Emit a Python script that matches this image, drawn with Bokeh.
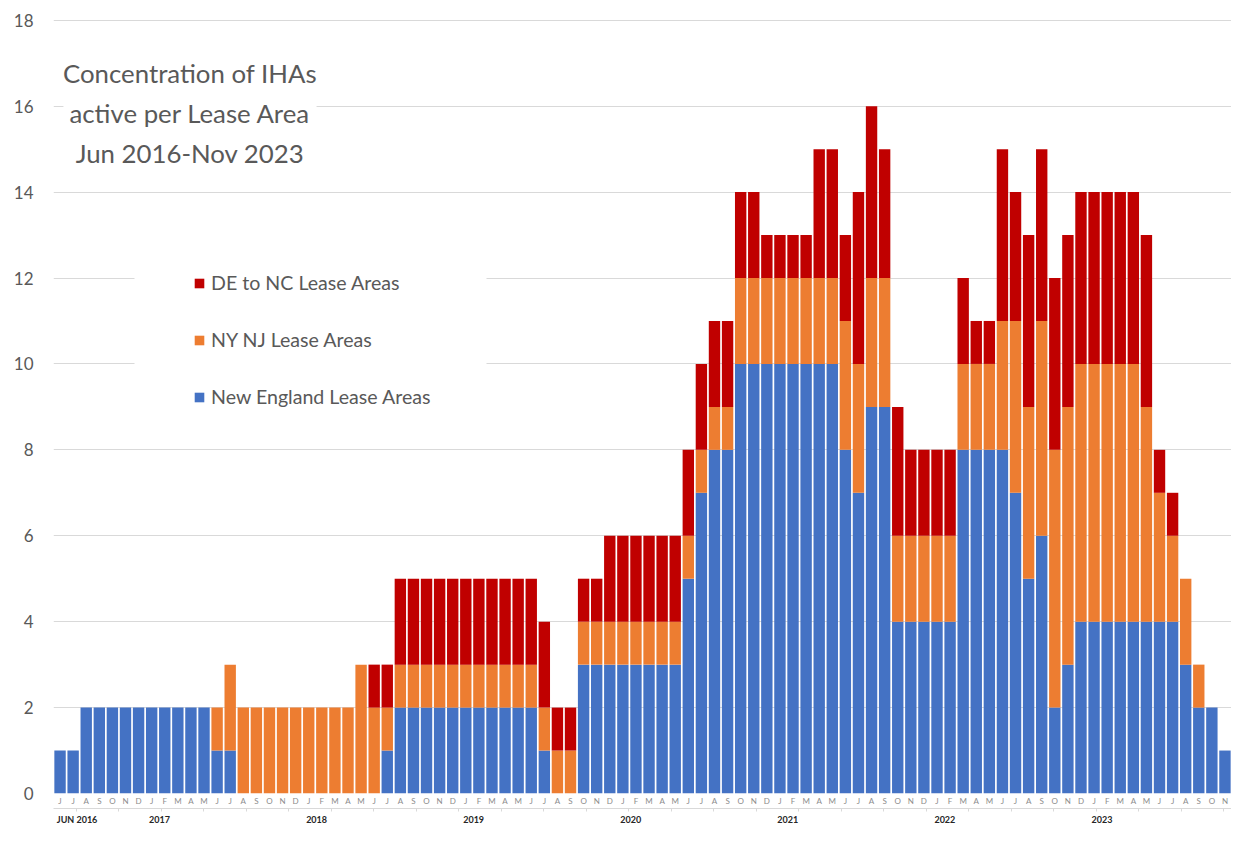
import pandas as pd
from bokeh.plotting import figure
from bokeh.models import (ColumnDataSource, Range1d, FixedTicker, LinearAxis,
                          Legend, LegendItem, Label, BoxAnnotation)
from bokeh.embed import file_html
from bokeh.resources import INLINE

# ---------------- data ----------------
months = pd.date_range("2016-06-01", periods=90, freq="MS")
month_letters = [m.strftime("%b")[0] for m in months]

new_england = [1, 1, 2, 2, 2, 2, 2,
               2, 2, 2, 2, 2, 1, 1, 0, 0, 0, 0, 0,
               0, 0, 0, 0, 0, 0, 1, 2, 2, 2, 2, 2,
               2, 2, 2, 2, 2, 2, 1, 0, 0, 3, 3, 3,
               3, 3, 3, 3, 3, 5, 7, 8, 8, 10, 10, 10,
               10, 10, 10, 10, 10, 8, 7, 9, 9, 4, 4, 4,
               4, 4, 8, 8, 8, 8, 7, 5, 6, 2, 3, 4,
               4, 4, 4, 4, 4, 4, 4, 3, 2, 2, 1]
ny_nj = [0, 0, 0, 0, 0, 0, 0,
         0, 0, 0, 0, 0, 1, 2, 2, 2, 2, 2, 2,
         2, 2, 2, 2, 3, 2, 1, 1, 1, 1, 1, 1,
         1, 1, 1, 1, 1, 1, 1, 1, 1, 1, 1, 1,
         1, 1, 1, 1, 1, 1, 1, 1, 1, 2, 2, 2,
         2, 2, 2, 2, 2, 3, 3, 3, 3, 2, 2, 2,
         2, 2, 2, 2, 2, 3, 4, 4, 5, 6, 6, 6,
         6, 6, 6, 6, 5, 3, 2, 2, 1, 0, 0]
de_nc = [0, 0, 0, 0, 0, 0, 0,
         0, 0, 0, 0, 0, 0, 0, 0, 0, 0, 0, 0,
         0, 0, 0, 0, 0, 1, 1, 2, 2, 2, 2, 2,
         2, 2, 2, 2, 2, 2, 2, 1, 1, 1, 1, 2,
         2, 2, 2, 2, 2, 2, 2, 2, 2, 2, 2, 1,
         1, 1, 1, 3, 3, 2, 4, 4, 3, 3, 2, 2,
         2, 2, 2, 1, 1, 4, 3, 4, 4, 4, 4, 4,
         4, 4, 4, 4, 4, 1, 1, 0, 0, 0, 0]

series_names = ["New England Lease Areas", "NY NJ Lease Areas", "DE to NC Lease Areas"]
series_colors = ["#4472C4", "#ED7D31", "#C00000"]
year_labels = ["JUN 2016", "2017", "2018", "2019", "2020", "2021", "2022", "2023"]
title_lines = ["Concentration of IHAs", "active per Lease Area", "Jun 2016-Nov 2023"]

FONT = "Lato"
TXT = "#595959"
FRAME_BOTTOM = 794   # expected frame bottom in canvas px

idx = list(range(len(months)))
source = ColumnDataSource(dict(idx=idx, ne=new_england, nynj=ny_nj, denc=de_nc))

p = figure(width=1231, height=827, output_backend="svg", toolbar_location=None,
           x_range=Range1d(-0.5, len(months) - 0.5), y_range=Range1d(0, 18.46),
           min_border_left=53, min_border_right=0, min_border_top=0,
           min_border_bottom=0)
p.outline_line_color = None
p.background_fill_color = "white"
p.border_fill_color = "white"

renderers = p.vbar_stack(["ne", "nynj", "denc"], x="idx", width=0.87,
                         color=series_colors, line_color=None, source=source)

# y axis
p.yaxis.ticker = FixedTicker(ticks=list(range(0, 19, 2)))
p.yaxis.axis_line_color = None
p.yaxis.major_tick_line_color = None
p.yaxis.minor_tick_line_color = None
p.yaxis.major_tick_out = 0
p.yaxis.major_label_standoff = 20
p.yaxis.major_label_text_font = FONT
p.yaxis.major_label_text_font_size = "17px"
p.yaxis.major_label_text_color = TXT
p.ygrid.grid_line_color = "#d9d9d9"
p.xgrid.grid_line_color = None

# month letters axis
p.xaxis.ticker = FixedTicker(ticks=idx)
p.xaxis.major_label_overrides = {i: l for i, l in zip(idx, month_letters)}
p.xaxis.axis_line_color = None
p.xaxis.major_tick_line_color = None
p.xaxis.minor_tick_line_color = None
p.xaxis.major_tick_out = 0
p.xaxis.major_tick_in = 0
p.xaxis.minor_tick_out = 0
p.xaxis.major_label_standoff = 2
p.xaxis.major_label_text_font = FONT
p.xaxis.major_label_text_font_size = "8px"
p.xaxis.major_label_text_color = "#8c8c8c"

# year axis
jan_idx = [i for i, m in enumerate(months) if m.month == 1]
year_pos = [1.3] + [j + 0.6 for j in jan_idx]
deco = [1.25 + 3.247 * k for k in range(28)]
year_axis = LinearAxis(ticker=FixedTicker(ticks=year_pos, minor_ticks=deco),
                       major_label_overrides={pos: lab for pos, lab in zip(year_pos, year_labels)})
year_axis.axis_line_color = "#d9d9d9"
year_axis.major_tick_line_color = None
year_axis.major_tick_out = 0
year_axis.major_tick_in = 0
year_axis.minor_tick_line_color = "#d9d9d9"
year_axis.minor_tick_out = 3
year_axis.minor_tick_in = 0
year_axis.major_label_standoff = 2
year_axis.major_label_text_font = FONT
year_axis.major_label_text_font_style = "bold"
year_axis.major_label_text_font_size = "9px"
year_axis.major_label_text_color = "#262626"
p.add_layout(year_axis, "below")

# white panel behind the legend (hides gridlines like the original legend box)
p.add_layout(BoxAnnotation(left=81, right=433, top=FRAME_BOTTOM - 250, bottom=FRAME_BOTTOM - 440,
                           left_units="screen", right_units="screen",
                           top_units="screen", bottom_units="screen",
                           fill_color="white", fill_alpha=1, line_color=None))

# legend
items = [LegendItem(label=series_names[i], renderers=[renderers[i]]) for i in (2, 1, 0)]
legend = Legend(items=items, location=(140, FRAME_BOTTOM - 409))
legend.border_line_color = None
legend.background_fill_color = "white"
legend.background_fill_alpha = 1.0
legend.padding = 35
legend.margin = 0
legend.spacing = 34
legend.glyph_width = 12
legend.glyph_height = 12
legend.label_height = 20
legend.label_standoff = 6
legend.label_text_font = FONT
legend.label_text_font_size = "19.6px"
legend.label_text_color = TXT
p.add_layout(legend, "center")

# title block
for k, line in enumerate(title_lines):
    p.add_layout(Label(x=136.5, y=FRAME_BOTTOM - (73 + 40 * k), x_units="screen", y_units="screen",
                       text=line, text_align="center", text_baseline="middle",
                       text_font=FONT, text_font_size="25.8px", text_color=TXT,
                       background_fill_color="white", padding=6))

open("out.html", "w").write(file_html(p, INLINE))
